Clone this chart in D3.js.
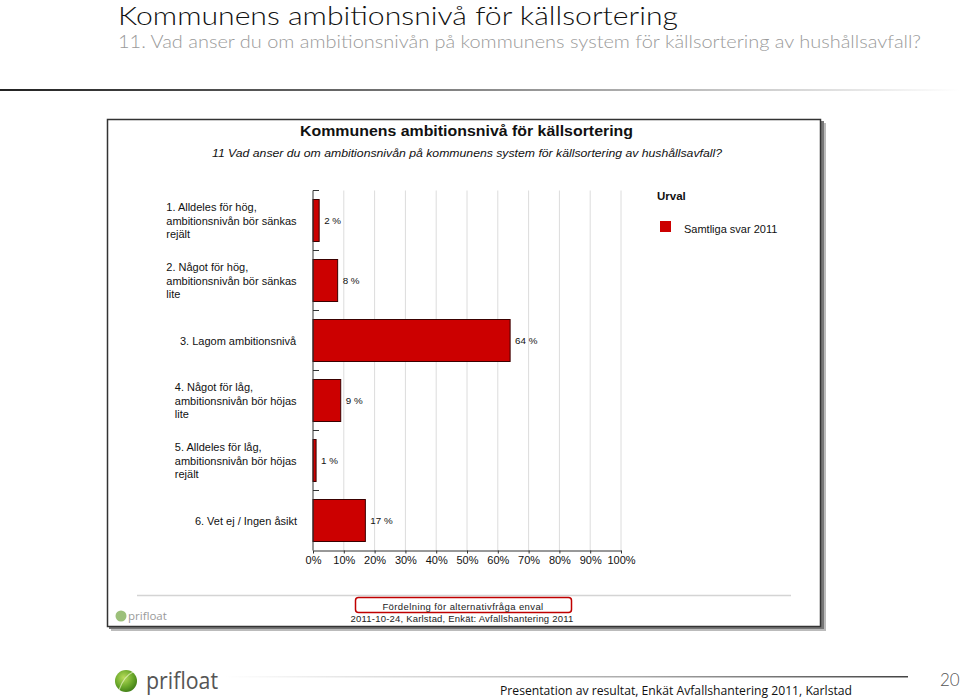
<!DOCTYPE html>
<html><head><meta charset="utf-8">
<script src="https://cdn.jsdelivr.net/npm/d3@7"></script>
<style>
html,body{margin:0;padding:0;background:#fff;}
svg{display:block;}
</style></head>
<body>
<svg id="c" width="960" height="700"></svg>
<script>
const categories = [
  ["1. Alldeles för hög,", "ambitionsnivån bör sänkas", "rejält"],
  ["2. Något för hög,", "ambitionsnivån bör sänkas", "lite"],
  ["3. Lagom ambitionsnivå"],
  ["4. Något för låg,", "ambitionsnivån bör höjas", "lite"],
  ["5. Alldeles för låg,", "ambitionsnivån bör höjas", "rejält"],
  ["6. Vet ej / Ingen åsikt"]
];
const values = [2, 8, 64, 9, 1, 17];
const seriesName = "Samtliga svar 2011";
const tickValues = [0, 10, 20, 30, 40, 50, 60, 70, 80, 90, 100];

const svg = d3.select("#c");
const defs = svg.append("defs");

// slide header
svg.append("text").attr("x", 118).attr("y", 25)
  .attr("font-family", "Lato, 'DejaVu Sans', sans-serif").attr("font-weight", 300)
  .attr("font-size", 26).attr("fill", "#111")
  .attr("textLength", 560).attr("lengthAdjust", "spacingAndGlyphs")
  .text("Kommunens ambitionsnivå för källsortering");
svg.append("text").attr("x", 118).attr("y", 47.5)
  .attr("font-family", "Lato, 'DejaVu Sans', sans-serif").attr("font-weight", 300)
  .attr("font-size", 17.5).attr("fill", "#9a9a9a")
  .attr("textLength", 803).attr("lengthAdjust", "spacingAndGlyphs")
  .text("11. Vad anser du om ambitionsnivån på kommunens system för källsortering av hushållsavfall?");

const g1 = defs.append("linearGradient").attr("id", "hdrLine");
g1.append("stop").attr("offset", "0").attr("stop-color", "#222");
g1.append("stop").attr("offset", "0.35").attr("stop-color", "#666");
g1.append("stop").attr("offset", "1").attr("stop-color", "#fff");
svg.append("rect").attr("x", 0).attr("y", 89).attr("width", 960).attr("height", 2).attr("fill", "url(#hdrLine)");

// chart frame with shadow
svg.append("rect").attr("x", 111).attr("y", 123).attr("width", 715).attr("height", 508).attr("fill", "#bbb");
svg.append("rect").attr("x", 109).attr("y", 121).attr("width", 715).attr("height", 508).attr("fill", "#777");
svg.append("rect").attr("x", 107.5).attr("y", 119.5).attr("width", 713).attr("height", 507)
  .attr("fill", "#fff").attr("stroke", "#333").attr("stroke-width", 1.5);

const fontA = "Arial, 'Liberation Sans', sans-serif";

// chart titles
svg.append("text").attr("x", 300).attr("y", 136)
  .attr("font-family", fontA).attr("font-weight", "bold")
  .attr("font-size", 15.5).attr("fill", "#111")
  .attr("textLength", 333).attr("lengthAdjust", "spacingAndGlyphs")
  .text("Kommunens ambitionsnivå för källsortering");
svg.append("text").attr("x", 212).attr("y", 157)
  .attr("font-family", fontA).attr("font-style", "italic")
  .attr("font-size", 11.3).attr("fill", "#111")
  .attr("textLength", 510).attr("lengthAdjust", "spacingAndGlyphs")
  .text("11 Vad anser du om ambitionsnivån på kommunens system för källsortering av hushållsavfall?");

// scales
const x = d3.scaleLinear().domain([0, 100]).range([313, 621]);
const y = d3.scaleBand().domain(d3.range(categories.length)).range([190.5, 550.5]).paddingInner(0.3).paddingOuter(0.15);
const bandEdges = d3.range(categories.length + 1).map(i => 190.5 + i * 60);

// gridlines
svg.append("g").selectAll("line").data(tickValues.slice(1)).join("line")
  .attr("x1", d => x(d)).attr("x2", d => x(d))
  .attr("y1", 190.5).attr("y2", 550.5)
  .attr("stroke", "#dcdcdc").attr("stroke-width", 1);

// bars
svg.append("g").selectAll("rect").data(values).join("rect")
  .attr("x", x(0)).attr("y", (d, i) => y(i))
  .attr("width", d => x(d) - x(0)).attr("height", y.bandwidth())
  .attr("fill", "#cc0000").attr("stroke", "#3a0000").attr("stroke-width", 1);

// value labels
svg.append("g").selectAll("text").data(values).join("text")
  .attr("x", d => x(d) + 5).attr("y", (d, i) => y(i) + y.bandwidth() / 2 + 3.5)
  .attr("font-family", fontA).attr("font-size", 9.8).attr("fill", "#111")
  .text(d => d + " %");

// x axis
const xAxis = d3.axisBottom(x).tickValues(tickValues).tickFormat(d => d + "%").tickSize(3).tickSizeOuter(0);
const gx = svg.append("g").attr("transform", "translate(0,550.5)").call(xAxis);
gx.select(".domain").attr("stroke", "#333");
gx.selectAll(".tick line").attr("stroke", "#333");
gx.selectAll(".tick text").attr("font-family", fontA).attr("font-size", 11).attr("fill", "#111").attr("dy", "0.9em").attr("y", 4);

// y axis line and band ticks
svg.append("line").attr("x1", 313).attr("x2", 313).attr("y1", 190.5).attr("y2", 550.5).attr("stroke", "#333");
svg.append("g").selectAll("line").data(bandEdges.slice(0, -1)).join("line")
  .attr("x1", 313).attr("x2", 319).attr("y1", d => d).attr("y2", d => d)
  .attr("stroke", "#333");

// category labels (left-aligned block, right-aligned at 297)
const lab = svg.append("g");
categories.forEach((lines, i) => {
  const cy = y(i) + y.bandwidth() / 2;
  const t = lab.append("text").attr("font-family", fontA).attr("font-size", 11).attr("fill", "#111");
  const lh = 13.5;
  lines.forEach((ln, j) => {
    t.append("tspan").attr("x", 0).attr("y", cy + (j - (lines.length - 1) / 2) * lh + 4).text(ln);
  });
  const w = t.node().getBBox().width;
  t.attr("transform", `translate(${297 - w},0)`);
});

// legend
svg.append("text").attr("x", 657).attr("y", 200).attr("font-family", fontA).attr("font-weight", "bold")
  .attr("font-size", 11.5).attr("fill", "#111").text("Urval");
svg.append("rect").attr("x", 660).attr("y", 221).attr("width", 11).attr("height", 11).attr("fill", "#cc0000");
svg.append("text").attr("x", 684).attr("y", 233).attr("font-family", fontA)
  .attr("font-size", 11).attr("fill", "#111").text(seriesName);

// bottom separator and notes
svg.append("line").attr("x1", 137).attr("x2", 791).attr("y1", 595.5).attr("y2", 595.5).attr("stroke", "#d4d4d4").attr("stroke-width", 1.5);
svg.append("rect").attr("x", 355.5).attr("y", 597.5).attr("width", 216).attr("height", 15).attr("rx", 3)
  .attr("fill", "#fff").attr("stroke", "#c00000").attr("stroke-width", 1.5);
svg.append("text").attr("x", 463).attr("y", 610).attr("text-anchor", "middle").attr("font-family", fontA)
  .attr("font-size", 9.5).attr("fill", "#222").attr("letter-spacing", 0.4).text("Fördelning för alternativfråga enval");
svg.append("text").attr("x", 462).attr("y", 622).attr("text-anchor", "middle").attr("font-family", fontA)
  .attr("font-size", 9.5).attr("fill", "#222").attr("letter-spacing", 0.2).text("2011-10-24, Karlstad, Enkät: Avfallshantering 2011");

// small logo in chart
svg.append("circle").attr("cx", 121).attr("cy", 616).attr("r", 5.5).attr("fill", "#9cc07a");
svg.append("text").attr("x", 128).attr("y", 620).attr("font-family", "'Open Sans', sans-serif")
  .attr("font-size", 11.5).attr("fill", "#9a9a9a").text("prifloat");

// footer
const gl = defs.append("radialGradient").attr("id", "logoG").attr("cx", "0.4").attr("cy", "0.35").attr("r", "0.7");
gl.append("stop").attr("offset", "0").attr("stop-color", "#b8dc5a");
gl.append("stop").attr("offset", "0.6").attr("stop-color", "#6aa82a");
gl.append("stop").attr("offset", "1").attr("stop-color", "#3e7a16");
svg.append("circle").attr("cx", 126).attr("cy", 681).attr("r", 11).attr("fill", "url(#logoG)");
svg.append("path").attr("d", "M119,690 Q124,676 133,672").attr("stroke", "#e8f4c8").attr("stroke-width", 1.2).attr("fill", "none").attr("opacity", 0.7);
svg.append("text").attr("x", 146).attr("y", 689).attr("font-family", "'Open Sans', sans-serif")
  .attr("font-size", 23).attr("fill", "#555")
  .attr("textLength", 72).attr("lengthAdjust", "spacingAndGlyphs").text("prifloat");

const g2 = defs.append("linearGradient").attr("id", "ftLine");
g2.append("stop").attr("offset", "0").attr("stop-color", "#fff");
g2.append("stop").attr("offset", "0.6").attr("stop-color", "#aaa");
g2.append("stop").attr("offset", "1").attr("stop-color", "#444");
svg.append("rect").attr("x", 225).attr("y", 676).attr("width", 683).attr("height", 1.5).attr("fill", "url(#ftLine)");

svg.append("text").attr("x", 500).attr("y", 695).attr("font-family", "'Open Sans', sans-serif")
  .attr("font-size", 12.6).attr("fill", "#111")
  .attr("textLength", 352).attr("lengthAdjust", "spacingAndGlyphs")
  .text("Presentation av resultat, Enkät Avfallshantering 2011, Karlstad");
svg.append("text").attr("x", 940).attr("y", 686).attr("font-family", "Lato, sans-serif").attr("font-weight", 300)
  .attr("font-size", 17).attr("fill", "#555").text("20");
</script>
</body></html>
